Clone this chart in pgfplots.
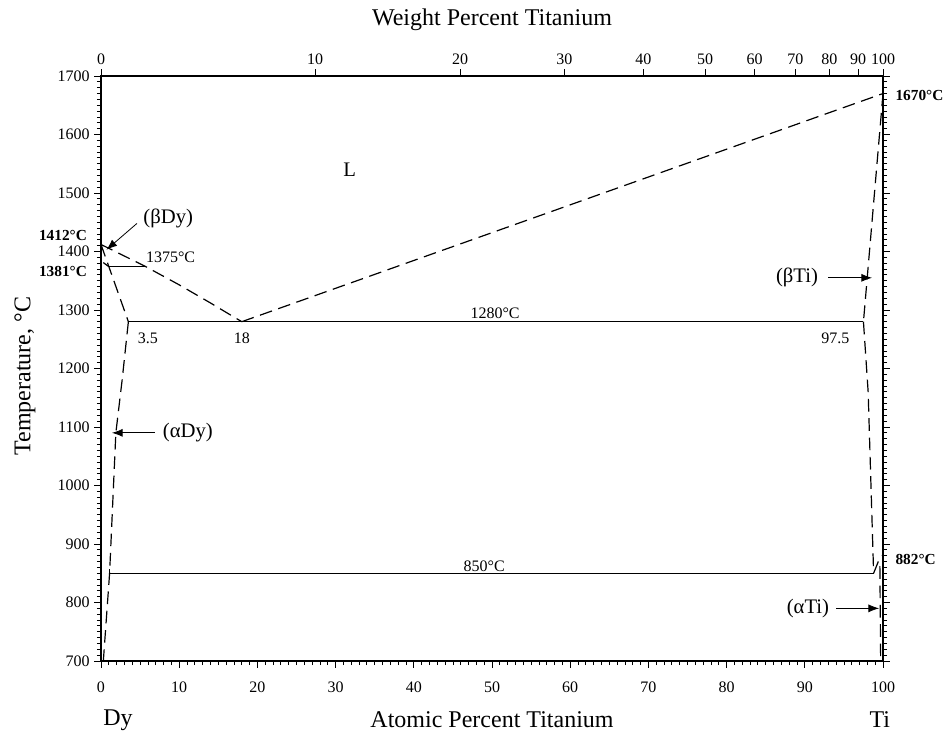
\documentclass[border=0pt]{standalone}
\usepackage{fontspec}
\setmainfont{Liberation Serif}
\usepackage{pgfplots}
\pgfplotsset{compat=1.18}
\usetikzlibrary{arrows.meta,calc}

\newcommand{\tk}{\fontsize{12}{14}\selectfont}
\newcommand{\bd}{\fontsize{11.5}{13}\selectfont\bfseries}
\newcommand{\ph}{\fontsize{15.5}{18}\selectfont}
\newcommand{\bg}{\fontsize{18}{21}\selectfont}

\tikzset{
  dsh/.style={black, line width=0.9pt, dash pattern=on 9.5pt off 5pt},
  sld/.style={black, line width=0.9pt},
  arr/.style={black, line width=0.6pt, -{Latex[length=8pt,width=6pt]}},
}

\begin{document}
\begin{tikzpicture}
\pgfplotsset{every axis/.append style={
  width=586.5pt, height=438.75pt, scale only axis,
  xmin=0, xmax=100,
  /pgf/number format/assume math mode=true,
  /pgf/number format/set thousands separator={},
  tick label style={font=\tk},
  axis line style={line width=0.8pt},
  tick style={line width=0.6pt, black},
  major tick length=5pt, minor tick length=3pt,
}}

% atomic percent axis (bottom), temperature (left/right)
\begin{axis}[
  name=main,
  ymin=700, ymax=1700,
  xtick={0,10,...,100}, ytick={700,800,...,1700},
  minor x tick num=9, minor y tick num=9,
  tick align=outside,
  xtick pos=bottom, ytick pos=both, yticklabel pos=left,
  xticklabel style={yshift=-7pt},
  clip=false,
]
% liquidus
\addplot[dsh] coordinates {(0,1412) (5.6,1375) (10,1343) (14,1312) (18,1280)};
\addplot[dsh] coordinates {(18,1280) (100,1670)};
% Dy side
\addplot[dsh] coordinates {(0,1412) (3.5,1280)};
\addplot[dsh] coordinates {(3.5,1280) (2.7,1180) (1.9,1090) (1.1,850) (0.3,700)};
\addplot[sld] coordinates {(0.3,1381) (0.9,1375)};
\addplot[sld] coordinates {(0.9,1375) (5.6,1375)};
\addplot[sld] coordinates {(1.1,842) (1.1,858)};
% Ti side
\addplot[dsh] coordinates {(100,1670) (97.5,1280)};
\addplot[dsh] coordinates {(97.5,1280) (98.1,1160) (98.8,850)};
\addplot[dsh] coordinates {(98.8,850) (99.4,870) (100,882)};
\addplot[dsh] coordinates {(99.6,862) (99.7,700)};
% invariant lines
\addplot[sld] coordinates {(3.5,1280) (97.5,1280)};
\addplot[sld] coordinates {(1.1,850) (98.8,850)};

% labels
\node[font=\ph] at (axis cs:31.8,1539) {L};
\node[font=\ph] at (axis cs:8.6,1457) {(βDy)};
\draw[arr] (axis cs:4.6,1448) -- (axis cs:0.7,1403);
\node[font=\tk] at (axis cs:8.9,1391) {1375°C};
\node[font=\bd, anchor=east] at (axis cs:-1.2,1427) {1412°C};
\node[font=\bd, anchor=east] at (axis cs:-1.2,1365) {1381°C};
\node[font=\bd, anchor=west] at (axis cs:101.0,1667) {1670°C};
\node[font=\bd, anchor=west] at (axis cs:101.0,873) {882°C};
\node[font=\tk] at (axis cs:6.0,1252) {3.5};
\node[font=\tk] at (axis cs:18.0,1252) {18};
\node[font=\tk] at (axis cs:50.4,1295) {1280°C};
\node[font=\tk] at (axis cs:93.9,1252) {97.5};
\node[font=\tk] at (axis cs:49.0,862) {850°C};
\node[font=\ph] at (axis cs:89.0,1355) {(βTi)};
\draw[arr] (axis cs:93.0,1355) -- (axis cs:98.6,1355);
\node[font=\ph] at (axis cs:11.1,1090) {(αDy)};
\draw[arr] (axis cs:6.9,1090) -- (axis cs:1.4,1090);
\node[font=\ph] at (axis cs:90.4,790) {(αTi)};
\draw[arr] (axis cs:94.0,790) -- (axis cs:99.5,790);

% axis titles
\node[font=\bg] at (rel axis cs:0.5,-0.1009) {Atomic Percent Titanium};
\node[font=\bg] at (rel axis cs:0.0217,-0.1009) {Dy};
\node[font=\bg] at (rel axis cs:0.996,-0.1009) {Ti};
\node[font=\bg] at (rel axis cs:0.5,1.0957) {Weight Percent Titanium};
\node[font=\bg, rotate=90] at (rel axis cs:-0.0972,0.487) {Temperature, °C};
\end{axis}

% weight percent axis (top), major ticks outward
\begin{axis}[
  ymin=0, ymax=1,
  axis x line*=top, hide y axis,
  xtick={0,27.39,45.91,59.27,69.36,77.25,83.58,88.79,93.14,96.83,100},
  xticklabels={0,10,20,30,40,50,60,70,80,90,100},
  tick align=outside,
]
\end{axis}

% top minor ticks, inward
\begin{axis}[
  ymin=0, ymax=1,
  axis x line*=top, hide y axis,
  xtick=\empty,
  minor xtick={1,2,...,99},
  tick align=inside,
]
\end{axis}

\pgfresetboundingbox
\path[use as bounding box] ($(main.south west)+(-75.75pt,-54.75pt)$) rectangle ($(main.north east)+(46.5pt,57pt)$);
\end{tikzpicture}
\end{document}
